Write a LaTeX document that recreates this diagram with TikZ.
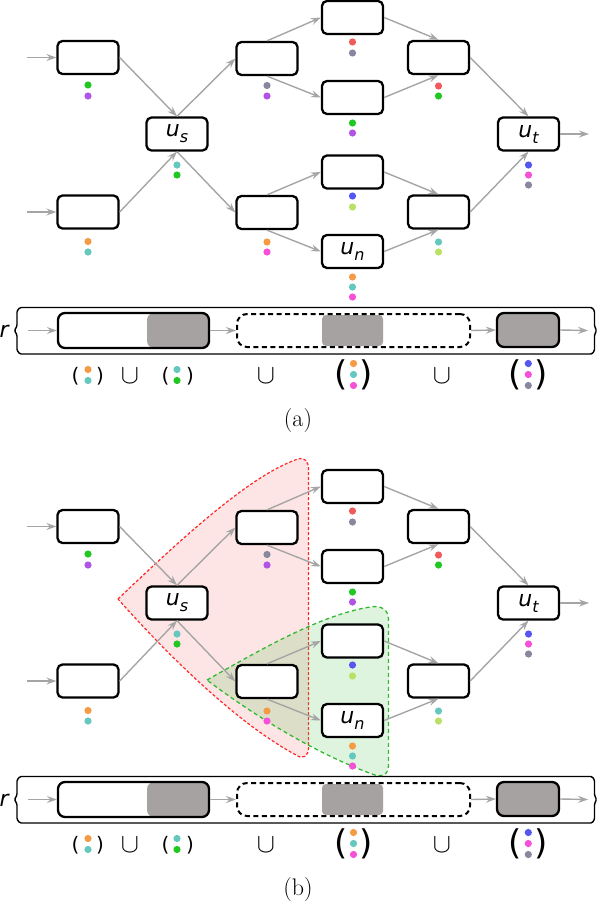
\documentclass[tikz,border=0pt]{standalone}
\usepackage{graphicx}
\usepackage{fontspec}
\newfontfamily\dvs{DejaVu Sans}
\usetikzlibrary{arrows.meta}
\definecolor{cgreen}{RGB}{34,200,34}
\definecolor{cpurple}{RGB}{176,84,230}
\definecolor{corange}{RGB}{245,155,70}
\definecolor{cteal}{RGB}{100,200,190}
\definecolor{cgray}{RGB}{135,135,160}
\definecolor{cmagenta}{RGB}{245,80,215}
\definecolor{cred}{RGB}{240,90,90}
\definecolor{cblue}{RGB}{85,85,240}
\definecolor{clime}{RGB}{185,225,100}
\definecolor{bargray}{RGB}{166,162,162}
\definecolor{edgegray}{RGB}{165,165,165}
\definecolor{regred}{RGB}{255,40,40}
\definecolor{regredfill}{RGB}{240,40,40}
\definecolor{reggreen}{RGB}{50,185,50}
\definecolor{reggreenfill}{RGB}{60,190,60}
\tikzset{
  box/.style={draw=black, line width=2.3pt, fill=white, rounded corners=5pt,
    minimum width=61pt, minimum height=33pt, inner sep=0pt,
    font=\dvs\itshape\fontsize{22}{22}\selectfont},
  edge/.style={draw=edgegray, line width=1.4pt,
    -{Stealth[length=10pt,width=7pt,inset=3.5pt]}},
  frame/.style={draw=black, line width=1.4pt, rounded corners=1.2pt},
  barbox/.style={draw=black, line width=2.3pt, fill=white, rounded corners=7pt,
    inner sep=0pt},
  paren/.style={inner sep=0pt, font=\dvs\fontsize{20}{20}\selectfont},
  bigparen/.style={inner sep=0pt, font=\dvs\fontsize{34}{34}\selectfont},
  cupst/.style={inner sep=0pt, font=\fontsize{24.88}{25}\selectfont},
  lab/.style={inner sep=0pt, font=\dvs\itshape\fontsize{22}{22}\selectfont},
  captxt/.style={inner sep=0pt, font=\fontsize{24}{24}\selectfont},
}
\newcommand\sublab[2]{#1\raisebox{-6pt}{\fontsize{16}{16}\selectfont #2}}
\newcommand\pdot[3]{\fill[#3] (#1,#2) circle[radius=3.6pt];}
\newcommand\cupsym{\scalebox{1.09}{$\cup$}}
\newcommand\drawpanel[1]{%
  \coordinate (in1#1) at (27,57.5);
  \coordinate (in2#1) at (27,212);
  \coordinate (out#1) at (589,134);
  \node[box] (A1#1) at (88,57.5) {};
  \node[box] (A2#1) at (88,212) {};
  \node[box] (us#1) at (177,134) {\sublab{u}{s}};
  \node[box] (B1#1) at (267,58.5) {};
  \node[box] (B2#1) at (267,212.5) {};
  \node[box] (C1#1) at (352.5,17.5) {};
  \node[box] (C2#1) at (352.5,97.5) {};
  \node[box] (C3#1) at (352.5,172) {};
  \node[box] (un#1) at (352.5,251.5) {\sublab{u}{n}};
  \node[box] (D1#1) at (438.5,57.5) {};
  \node[box] (D2#1) at (438.5,212) {};
  \node[box] (ut#1) at (528.5,134) {\sublab{u}{t}};
  \draw[edge] (in1#1) -- (A1#1.west);
  \draw[edge] (in2#1) -- (A2#1.west);
  \draw[edge] (A1#1.east) -- (us#1.north);
  \draw[edge] (A2#1.east) -- (us#1.south);
  \draw[edge] (us#1.north) -- (B1#1.west);
  \draw[edge] (us#1.south) -- (B2#1.west);
  \draw[edge] (B1#1.north) -- (C1#1.west);
  \draw[edge] (B1#1.south) -- (C2#1.west);
  \draw[edge] (B2#1.north) -- (C3#1.west);
  \draw[edge] (B2#1.south) -- (un#1.west);
  \draw[edge] (C1#1.east) -- (D1#1.north);
  \draw[edge] (C2#1.east) -- (D1#1.south);
  \draw[edge] (C3#1.east) -- (D2#1.north);
  \draw[edge] (un#1.east) -- (D2#1.south);
  \draw[edge] (D1#1.east) -- (ut#1.north);
  \draw[edge] (D2#1.east) -- (ut#1.south);
  \draw[edge] (ut#1.east) -- (out#1);
  % dots
  \pdot{88}{85}{cgreen}\pdot{88}{96}{cpurple}
  \pdot{88}{241.5}{corange}\pdot{88}{252}{cteal}
  \pdot{177}{165}{cteal}\pdot{177}{175}{cgreen}
  \pdot{267}{85.5}{cgray}\pdot{267}{96}{cpurple}
  \pdot{267}{242}{corange}\pdot{267}{252}{cmagenta}
  \pdot{352.5}{42}{cred}\pdot{352.5}{53}{cgray}
  \pdot{352.5}{123}{cgreen}\pdot{352.5}{133}{cpurple}
  \pdot{352.5}{196}{cblue}\pdot{352.5}{207}{clime}
  \pdot{352.5}{277}{corange}\pdot{352.5}{287}{cteal}\pdot{352.5}{297}{cmagenta}
  \pdot{438.5}{86}{cred}\pdot{438.5}{96}{cgreen}
  \pdot{438.5}{242}{cteal}\pdot{438.5}{252}{clime}
  \pdot{528.5}{165}{cblue}\pdot{528.5}{175}{cmagenta}\pdot{528.5}{185}{cgray}
  % bar
  \draw[frame] (20,307.5) -- (592,307.5) -- (594.5,311) -- (594.5,326) -- (596.5,330.5)
    -- (594.5,335) -- (594.5,350.5) -- (592,354) -- (20,354) -- (17,350.5) -- (17,335)
    -- (14.5,330.5) -- (17,326) -- (17,311) -- cycle;
  \node[lab, anchor=base west] (r#1) at (-0.5,337.5) {r};
  \node[barbox, minimum width=151pt, minimum height=35pt,
    path picture={\fill[bargray] ([xshift=-62pt]path picture bounding box.north east)
      rectangle (path picture bounding box.south east);}] (LB#1) at (133.5,330.5) {};
  \node[fill=bargray, rounded corners=4pt, minimum width=61pt, minimum height=31pt,
    inner sep=0pt] (GR#1) at (352.5,330.5) {};
  \node[draw=black, line width=2pt, dash pattern=on 5pt off 3.5pt, rounded corners=10pt,
    minimum width=233pt, minimum height=33pt, inner sep=0pt] (DB#1) at (353.5,330.5) {};
  \node[barbox, fill=bargray, minimum width=62pt, minimum height=34pt] (RB#1) at (528,330) {};
  \coordinate (rin#1) at (28,330.5);
  \coordinate (rout#1) at (588,330.5);
  \draw[edge] (rin#1) -- (LB#1.west);
  \draw[edge] (LB#1.east) -- (DB#1.west);
  \draw[edge] (DB#1.east) -- (RB#1.west);
  \draw[edge] (RB#1.east) -- (rout#1);
  % union row
  \node[paren] (p1l#1) at (75.5,376) {(};
  \node[paren] (p1r#1) at (100,376) {)};
  \pdot{88}{369.5}{corange}\pdot{88}{380.5}{cteal}
  \node[cupst] (cu1#1) at (130,376) {\cupsym};
  \node[paren] (p2l#1) at (165.5,376) {(};
  \node[paren] (p2r#1) at (190,376) {)};
  \pdot{177}{369.5}{cteal}\pdot{177}{380.5}{cgreen}
  \node[cupst] (cu2#1) at (266,375.5) {\cupsym};
  \node[bigparen] (p3l#1) at (341,375) {(};
  \node[bigparen] (p3r#1) at (366,375) {)};
  \pdot{353.5}{363.5}{corange}\pdot{353.5}{374.5}{cteal}\pdot{353.5}{385.5}{cmagenta}
  \node[cupst] (cu3#1) at (442,376) {\cupsym};
  \node[bigparen] (p4l#1) at (515,375) {(};
  \node[bigparen] (p4r#1) at (541.5,375) {)};
  \pdot{528.3}{363.5}{cblue}\pdot{528.3}{374.5}{cmagenta}\pdot{528.3}{385.5}{cgray}
}
\begin{document}
\begin{tikzpicture}[x=1pt,y=-1pt]
\useasboundingbox (0,0) rectangle (597,905);
\drawpanel{a}
\node[captxt] (capa) at (298,420.5) {(a)};
% regions of panel (b)
\path[draw=regred, line width=1.2pt, dash pattern=on 3pt off 2pt,
  fill=regredfill, fill opacity=0.12]
  (118,599) .. controls (180,540) and (250,475) .. (298,459)
  .. controls (306,457) and (308.5,462) .. (308.5,470) -- (308.5,748)
  .. controls (308.5,756) and (303,760) .. (296,755)
  .. controls (235,722) and (165,652) .. (118,599) -- cycle;
\path[draw=reggreen, line width=1.3pt, dash pattern=on 4pt off 3pt,
  fill=reggreenfill, fill opacity=0.17]
  (207,680) .. controls (260,650) and (320,615) .. (370,607)
  .. controls (382,605) and (388.5,610) .. (388.5,620) -- (388.5,765)
  .. controls (388.5,775) and (382,778) .. (372,774)
  .. controls (320,755) and (260,720) .. (207,680) -- cycle;
\begin{scope}[yshift=-469pt]
\drawpanel{b}
\end{scope}
\node[captxt] (capb) at (298,889.5) {(b)};
\end{tikzpicture}
\end{document}
